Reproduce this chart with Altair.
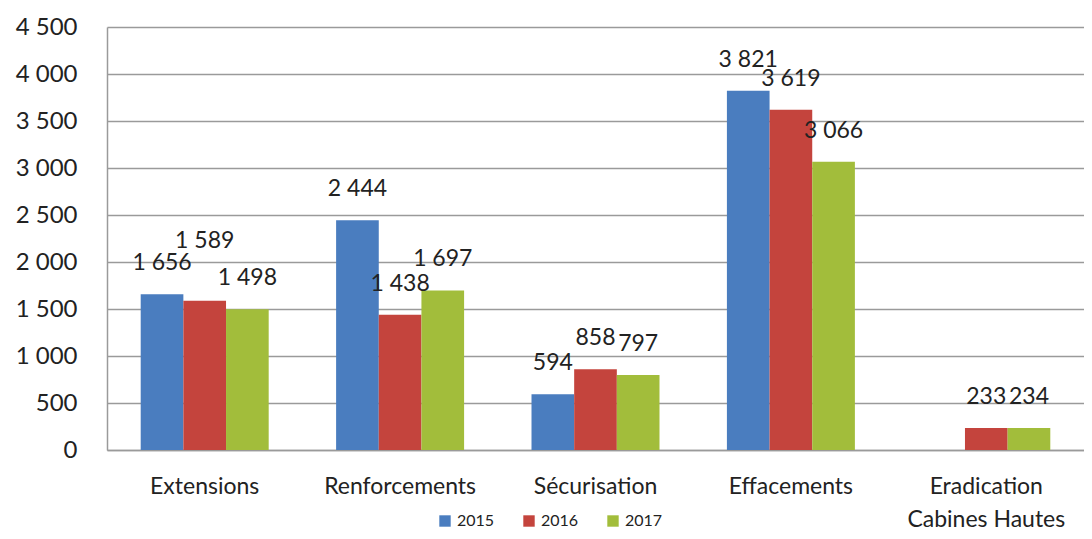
import altair as alt
import pandas as pd

categories = ["Extensions", "Renforcements", "Sécurisation", "Effacements", "Eradication\nCabines Hautes"]
years = ["2015", "2016", "2017"]
v2015 = [1656, 2444, 594, 3821, None]
v2016 = [1589, 1438, 858, 3619, 233]
v2017 = [1498, 1697, 797, 3066, 234]
y_ticks = [0, 500, 1000, 1500, 2000, 2500, 3000, 3500, 4000, 4500]
colors = ["#4a7dbf", "#c4443d", "#a2bd3b"]

rows = []
for yr, vals in zip(years, [v2015, v2016, v2017]):
    for c, v in zip(categories, vals):
        if v is not None:
            rows.append({"cat": c, "year": yr, "value": v})
df = pd.DataFrame(rows)

FONT = "Lato"

x = alt.X("cat:N", sort=categories, title=None,
          scale=alt.Scale(paddingInner=0.345, paddingOuter=0.1725),
          axis=alt.Axis(labelAngle=0, ticks=False, domain=True, domainColor="#9a9a9a",
                        domainWidth=1.5, labelPadding=25, labelFontSize=23,
                        labelColor="#222222", labelFont=FONT, labelLineHeight=33,
                        labelExpr="split(datum.label, '\\n')"))
xo = alt.XOffset("year:N", sort=years)

base = alt.Chart(df)

bars = base.mark_bar().encode(
    x=x,
    xOffset=xo,
    y=alt.Y("value:Q", title=None,
            scale=alt.Scale(domain=[0, 4500], nice=False),
            axis=alt.Axis(values=y_ticks, ticks=False, grid=True, gridColor="#9a9a9a",
                          gridWidth=1.5, domain=True, domainColor="#9a9a9a", domainWidth=1.5,
                          labelPadding=30, labelFontSize=24, labelColor="#222222",
                          labelFont=FONT,
                          labelExpr="replace(format(datum.value, ','), ',', ' ')")),
    color=alt.Color("year:N", sort=years, title="",
                    scale=alt.Scale(domain=years, range=colors),
                    legend=alt.Legend(orient="none", legendX=330, legendY=486,
                                      direction="horizontal", symbolType="square",
                                      symbolSize=130, symbolStrokeWidth=0,
                                      labelFontSize=16, labelFont=FONT, labelColor="#222222",
                                      columnPadding=26, labelOffset=4)),
)

# label nudge (raise the crowded 2016 Extensions label as in the original)
labels = base.transform_calculate(
    label="replace(format(datum.value, ','), ',', ' ')",
    label_y="datum.value + (datum.cat == 'Extensions' && datum.year == '2016' ? 300 : 0)",
).mark_text(baseline="middle", dy=-31, fontSize=23, font=FONT, color="#222222").encode(
    x=alt.X("cat:N", sort=categories),
    xOffset=xo,
    y=alt.Y("label_y:Q"),
    text="label:N",
)

chart = alt.layer(bars, labels).properties(
    width=977, height=423,
    autosize=alt.AutoSizeParams(type="none"),
    padding={"left": 99, "top": 19, "right": 0, "bottom": 81},
).configure_view(stroke=None)

chart.save("out.html", embed_options={"renderer": "svg", "actions": False})
